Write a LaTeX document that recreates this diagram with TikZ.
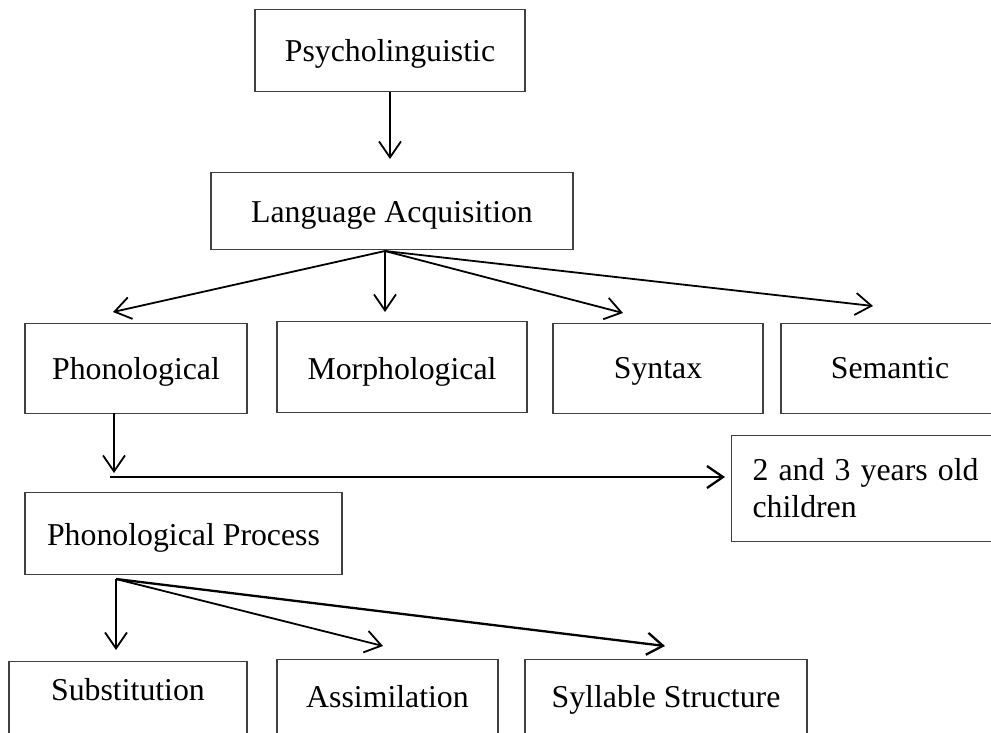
\documentclass[tikz,border=0pt]{standalone}
\usepackage{fontspec}
\setmainfont{Liberation Serif}
\usetikzlibrary{arrows.meta}
\begin{document}
\begin{tikzpicture}[x=1pt,y=-1pt,
  box/.style={draw=black!75, line width=1.1pt, inner sep=0pt, anchor=north, align=center},
  arr/.style={draw=black, line width=1.8pt, -{Straight Barb[length=16pt,width=22pt]}},
  thickarr/.style={arr, line width=2.3pt},
  font=\fontsize{31.8}{37}\selectfont]
\useasboundingbox (0,0) rectangle (991,732);

% nodes
\node[box, minimum width=270pt, text height=52pt, text depth=30pt] (psy) at (390,9) {Psycholinguistic};
\node[box, minimum width=362pt, text height=50pt, text depth=27pt] (lang) at (392,172) {Language Acquisition};
\node[box, minimum width=222pt, text height=56pt, text depth=34pt] (phon) at (136,323) {Phonological};
\node[box, minimum width=250pt, text height=58pt, text depth=33pt] (morph) at (402,321) {Morphological};
\node[box, minimum width=210pt, text height=55pt, text depth=35pt] (syn) at (658,323) {Syntax};
\node[box, minimum width=218pt, text height=55pt, text depth=35pt] (sem) at (890,323) {Semantic};
\node[draw=black!75, line width=1.1pt, anchor=north west, inner xsep=21pt, inner ysep=0pt,
      text width=226pt, minimum height=106pt, align=justify] (kids) at (731,435) {2 and 3 years old children};
\node[box, minimum width=317pt, text height=53pt, text depth=29pt] (pp) at (183.5,492) {Phonological Process};
\node[box, minimum width=238pt, text height=39pt, text depth=60pt] (sub) at (128,661) {Substitution};
\node[box, minimum width=221pt, text height=48pt, text depth=60pt] (ass) at (387.5,659) {Assimilation};
\node[box, minimum width=282pt, text height=48pt, text depth=60pt] (syl) at (666,659) {Syllable Structure};

% connector end points
\coordinate (t0) at (390,159);
\coordinate (lo) at (385,251);
\coordinate (t1) at (113,312);
\coordinate (t2) at (385,312);
\coordinate (t3) at (623,313);
\coordinate (t4) at (873,306);
\coordinate (p0) at (114,413);
\coordinate (t5) at (114,473);
\coordinate (h0) at (110,477);
\coordinate (h1) at (725,477);
\coordinate (po) at (116,579);
\coordinate (s1) at (116,650);
\coordinate (s2) at (383,646);
\coordinate (s3) at (665,646);

% connectors
\draw[arr] (psy.south) -- (t0);
\draw[arr] (lo) -- (t1);
\draw[arr] (lo) -- (t2);
\draw[arr] (lo) -- (t3);
\draw[arr] (lo) -- (t4);
\draw[arr] (p0) -- (t5);
\draw[thickarr] (h0) -- (h1);
\draw[arr] (po) -- (s1);
\draw[arr] (po) -- (s2);
\draw[thickarr] (po) -- (s3);
\end{tikzpicture}
\end{document}
